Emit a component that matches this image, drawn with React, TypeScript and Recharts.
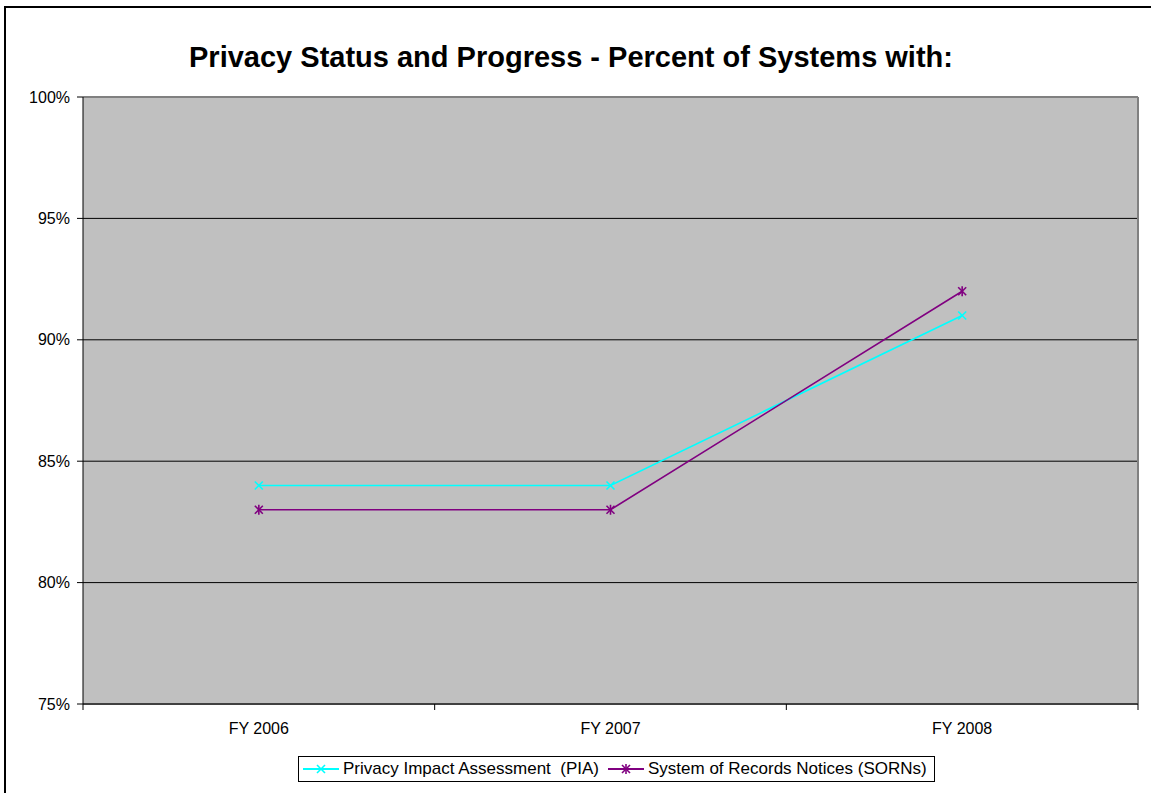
import React from 'react';
import { LineChart, Line, XAxis, YAxis, CartesianGrid, ReferenceLine } from 'recharts';

const FONT = '"Liberation Sans", Arial, sans-serif';

const categories = ['FY 2006', 'FY 2007', 'FY 2008'];
const piaValues = [0.84, 0.84, 0.91];
const sornValues = [0.83, 0.83, 0.92];
const yTicks = [0.75, 0.8, 0.85, 0.9, 0.95, 1.0];
const xTicks = [0, 0.5, 1, 1.5, 2, 2.5, 3];

const PIA_COLOR = '#00FFFF';
const SORN_COLOR = '#800080';

const series = [
  { key: 'pia', name: 'Privacy Impact Assessment  (PIA)', color: PIA_COLOR, star: false },
  { key: 'sorn', name: 'System of Records Notices (SORNs)', color: SORN_COLOR, star: true },
];

// each category sits in the middle of its own slot on a 0..3 axis
const data = categories.map((year, i) => ({
  pos: i + 0.5,
  year,
  pia: piaValues[i],
  sorn: sornValues[i],
}));

const Marker = ({ cx, cy, color, star }: { cx: number; cy: number; color: string; star: boolean }) => {
  const s = 4;
  return (
    <g>
      <line x1={cx - s} y1={cy - s} x2={cx + s} y2={cy + s} stroke={color} strokeWidth={1.6} />
      <line x1={cx - s} y1={cy + s} x2={cx + s} y2={cy - s} stroke={color} strokeWidth={1.6} />
      {star && <line x1={cx} y1={cy - s - 1} x2={cx} y2={cy + s + 1} stroke={color} strokeWidth={1.6} />}
    </g>
  );
};

const XTick = (props: any) => {
  const { x, y, payload } = props;
  const v = payload.value;
  if (Number.isInteger(v)) {
    return <line x1={x} x2={x} y1={y} y2={y + 6} stroke="#000" strokeWidth={1} />;
  }
  return (
    <text x={x} y={y + 30} textAnchor="middle" fontSize={16} fontFamily={FONT} fill="#000">
      {categories[Math.floor(v)]}
    </text>
  );
};

const LegendIcon = ({ color, star }: { color: string; star: boolean }) => (
  <svg width={36} height={14} style={{ display: 'block' }}>
    <line x1={0} y1={7} x2={36} y2={7} stroke={color} strokeWidth={2} />
    <Marker cx={18} cy={7} color={color} star={star} />
  </svg>
);

export default function App() {
  return (
    <div style={{ position: 'absolute', left: 0, top: 0, width: 1151, height: 793, background: '#fff', overflow: 'hidden', fontFamily: FONT }}>
      <div style={{ position: 'absolute', left: 4, top: 6, width: 1200, height: 840, border: '2px solid #000' }} />
      <div
        style={{
          position: 'absolute',
          left: 0,
          width: 1142,
          top: 43,
          lineHeight: '29px',
          fontSize: 29,
          fontWeight: 'bold',
          textAlign: 'center',
          color: '#000',
          whiteSpace: 'nowrap',
        }}
      >
        Privacy Status and Progress - Percent of Systems with:
      </div>
      <div style={{ position: 'absolute', left: 0, top: 0 }}>
        <LineChart width={1151} height={793} data={data} margin={{ top: 97, right: 13, bottom: 49, left: 0 }}>
          <CartesianGrid vertical={false} fill="#C0C0C0" stroke="#000" strokeWidth={1} fillOpacity={1} />
          <XAxis
            dataKey="pos"
            type="number"
            domain={[0, 3]}
            ticks={xTicks}
            interval={0}
            height={40}
            tickSize={0}
            tickMargin={0}
            tickLine={false}
            tick={<XTick />}
            axisLine={{ stroke: '#404040', strokeWidth: 2 }}
          />
          <YAxis
            type="number"
            domain={[0.75, 1.0]}
            ticks={yTicks}
            interval={0}
            width={83}
            tickSize={6}
            tickMargin={7}
            tickFormatter={(v: number) => `${Math.round(v * 100)}%`}
            tick={{ fontSize: 16, fontFamily: FONT, fill: '#000' }}
            tickLine={{ stroke: '#000' }}
            axisLine={{ stroke: '#000' }}
          />
          <ReferenceLine y={1.0} stroke="#808080" strokeWidth={2} />
          <ReferenceLine x={3} stroke="#808080" strokeWidth={2} />
          {series.map((s) => (
            <Line
              key={s.key}
              dataKey={s.key}
              name={s.name}
              type="linear"
              stroke={s.color}
              strokeWidth={1.6}
              isAnimationActive={false}
              activeDot={false}
              dot={(p: any) => <Marker key={`${s.key}-${p.index}`} cx={p.cx} cy={p.cy} color={s.color} star={s.star} />}
            />
          ))}
        </LineChart>
      </div>
      <div
        style={{
          position: 'absolute',
          left: 298,
          top: 756,
          height: 26,
          boxSizing: 'border-box',
          border: '1px solid #000',
          background: '#fff',
          display: 'flex',
          alignItems: 'center',
          padding: '0 7px 0 4px',
          fontSize: 17,
          whiteSpace: 'pre',
        }}
      >
        {series.map((s, i) => (
          <div key={s.key} style={{ display: 'flex', alignItems: 'center', marginLeft: i === 0 ? 0 : 9 }}>
            <LegendIcon color={s.color} star={s.star} />
            <span style={{ marginLeft: 4 }}>{s.name}</span>
          </div>
        ))}
      </div>
    </div>
  );
}
